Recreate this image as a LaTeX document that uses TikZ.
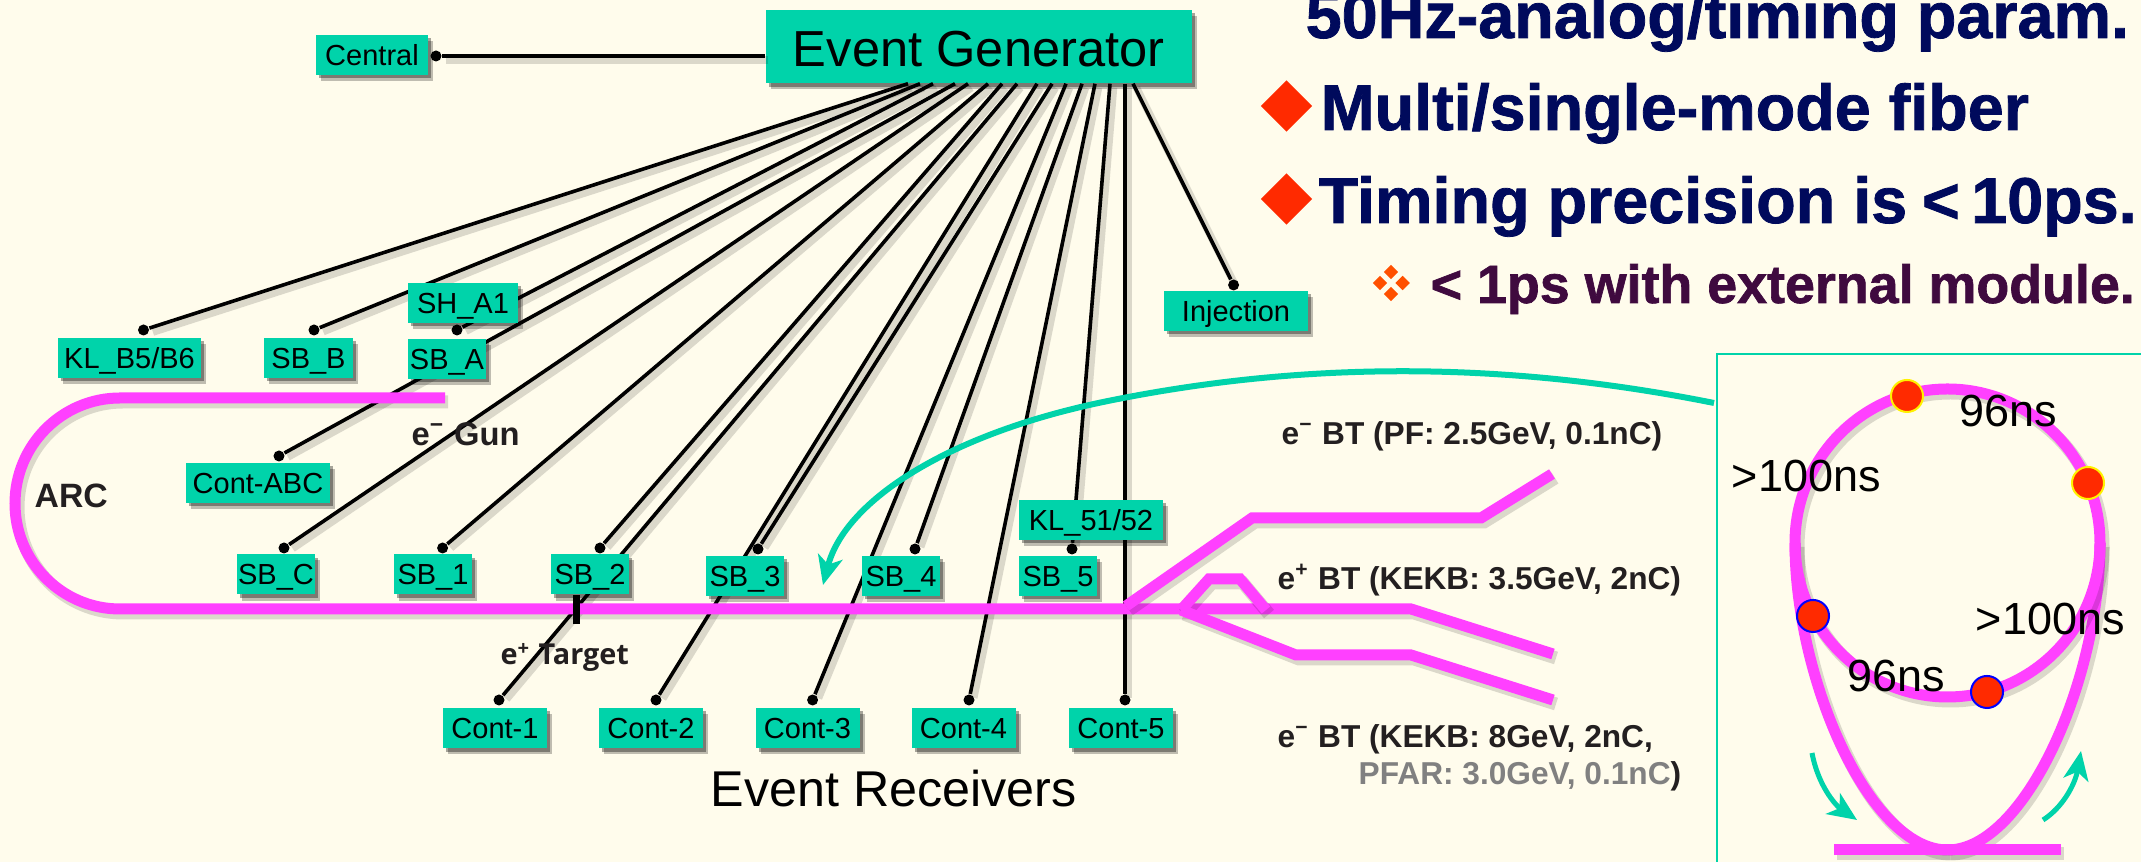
\documentclass[tikz,border=0pt]{standalone}
\usepackage{fontspec}
\setmainfont{Liberation Sans}
\newfontfamily\targetfont{Open Sans}
\newfontfamily\slidefont{Liberation Sans Bold}[FakeBold=1.2]
\usetikzlibrary{arrows.meta,shadows,shapes.geometric}
\definecolor{paper}{HTML}{FFFCEC}
\definecolor{evteal}{HTML}{00D3AA}
\definecolor{beampink}{HTML}{FF40FF}
\definecolor{navyink}{HTML}{000A5C}
\definecolor{plumink}{HTML}{3F0A3F}
\definecolor{redmark}{HTML}{FF2A00}
\definecolor{orangemark}{HTML}{FF5000}
\definecolor{labelink}{HTML}{231F20}

\begin{document}
\begin{tikzpicture}[x=0.01cm,y=-0.01cm,
    evbox/.style={fill=evteal,text=black,inner sep=0,minimum width=#1*0.01cm,minimum height=0.4cm,
      text height=0.21cm,text depth=0cm,font=\fontsize{8.25}{10}\selectfont,
      drop shadow={shadow xshift=0.05cm,shadow yshift=-0.06cm,fill=black,opacity=0.25},
      drop shadow={shadow xshift=0.03cm,shadow yshift=-0.035cm,fill=black,opacity=0.35}},
    wire/.style={draw=black,line width=0.036cm,
      preaction={draw=black,opacity=0.14,line width=0.075cm,transform canvas={shift={(0.035cm,-0.04cm)}}}},
    wiredot/.style={circle,fill=black,inner sep=0,minimum size=0.11cm},
    beam/.style={draw=beampink,line width=0.11cm,
      preaction={draw=black,opacity=0.14,line width=0.13cm,transform canvas={shift={(0.03cm,-0.04cm)}}}},
    teal arrow/.style={draw=evteal,line width=#1,-{Stealth[length=0.29cm,width=0.25cm,inset=0.08cm]}},
    label/.style={anchor=base west,inner sep=0,text=labelink,font=\fontsize{9}{11}\selectfont\bfseries},
    bigline/.style={anchor=base west,inner sep=0,text=navyink,font=\fontsize{18.4}{22}\selectfont\slidefont},
    bunch/.style={anchor=base west,inner sep=0,text=black,font=\fontsize{12.8}{15}\selectfont},
    bullet/.style={diamond,aspect=1,fill=redmark,inner sep=0,minimum size=0.52cm},
    smallbullet/.style={diamond,aspect=1,fill=orangemark,inner sep=0,minimum size=0.15cm},
    bunchdot/.style={circle,fill=redmark,draw=#1,line width=0.02cm,inner sep=0,minimum size=0.32cm}]

    \fill[paper] (0,0) rectangle (2141,862);
    \useasboundingbox (0,0) rectangle (2141,862);

    \node[evbox=426.5,minimum height=0.73cm,text height=0.41cm,font=\fontsize{14.4}{17}\selectfont]
      (gen) at (978.75,46.5) {Event Generator};

    % fibers, behind everything else
    \node[wiredot] (d-central) at (436,56) {};
    \draw[wire] (gen.west |- d-central) -- (d-central);
    \foreach \dname/\sx/\dx/\dy in {klb/908/143.5/330, sbb/920/314/330, sha/933/457/330, cabc/955/279/456,
      sbc/968/284/548, sb1/988/442.6/548, sb2/1002/600/548, c1/1017/499/700, c2/1037/656/700,
      sb3/1052/758/549, c3/1066/812.6/700, sb4/1082/915/549, c4/1095/969/700, sb5/1110/1072/549,
      c5/1125/1125/700, inj/1133/1233.6/285} {
      \node[wiredot] (d-\dname) at (\dx,\dy) {};
      \draw[wire] (\sx,0 |- gen.south) -- (d-\dname);
    }

    % linac and beam transports
    \draw[beam] (445,398) -- (120,398) arc[start angle=-90,end angle=-270,x radius=105,y radius=105.5]
      -- (1411,609) -- (1553,654);
    \draw[beam] (1126,606) -- (1252,518) -- (1481,518) -- (1552,474);
    \draw[beam] (1181,610) -- (1209,579) -- (1240,579) -- (1266,610);
    \draw[beam] (1181,610) -- (1296,655) -- (1411,655) -- (1553,700);
    \draw[black,line width=0.07cm] (576.5,595) -- (576.5,624);

    \draw[teal arrow=0.06cm] (1714,403) .. controls (1500,360) and (1300,362) .. (1108,401)
      .. controls (950,433) and (845,500) .. (823,585);

    \node[evbox=112] (central) at (372,55) {Central};
    \node[evbox=143] (klb) at (129.5,358) {KL\_B5/B6};
    \node[evbox=89] (sbb) at (308.5,358) {SB\_B};
    \node[evbox=110] (sha) at (463,303) {SH\_A1};
    \node[evbox=78] (sba) at (447,359) {SB\_A};
    \node[evbox=144] (cabc) at (258,483) {Cont-ABC};
    \node[evbox=78] (sbc) at (276,574.5) {SB\_C};
    \node[evbox=78] (sb1) at (433,574.5) {SB\_1};
    \node[evbox=78] (sb2) at (590,574.5) {SB\_2};
    \node[evbox=78] (sb3) at (745,576) {SB\_3};
    \node[evbox=78] (sb4) at (901,576) {SB\_4};
    \node[evbox=78] (sb5) at (1058,576) {SB\_5};
    \node[evbox=144] (kl5) at (1091,520) {KL\_51/52};
    \node[evbox=144] (inj) at (1236,311) {Injection};
    \foreach \num/\cx in {1/495,2/651,3/807.5,4/963.5,5/1121} {
      \node[evbox=104] (c\num) at (\cx,728) {Cont-\num};
    }

    \node[anchor=base west,inner sep=0,font=\fontsize{14.3}{17}\selectfont] (receivers) at (710,807) {Event Receivers};
    \node[label,font=\fontsize{9.6}{11}\selectfont\bfseries] (arc) at (34,508) {ARC};
    \node[label,font=\fontsize{9.3}{11}\selectfont\bfseries] (gun) at (411,446) {e\textsuperscript{−} Gun};
    \node[label,font=\fontsize{8.2}{10}\selectfont\bfseries\targetfont] (target) at (500,665) {e\textsuperscript{+} Target};
    \node[label] (pf) at (1281,445) {e\textsuperscript{−} BT (PF: 2.5GeV, 0.1nC)};
    \node[label] (kekbp) at (1277,590) {e\textsuperscript{+} BT (KEKB: 3.5GeV, 2nC)};
    \node[label] (kekbe) at (1277,748) {e\textsuperscript{−} BT (KEKB: 8GeV, 2nC,};
    \node[label,text=gray] (pfar) at (1358,785) {PFAR: 3.0GeV, 0.1nC\textcolor{labelink}{)}};

    % the slide's bullets
    \node[bigline] (line1) at (1305,38) {50Hz-analog/timing param.};
    \node[bullet] (b2) at (1286.5,106) {};
    \node[bigline] (line2) at (1320,130) {Multi/single-mode fiber};
    \node[bullet] (b3) at (1286.5,199) {};
    \node[bigline] (line3) at (1318,223) {Timing precision is\hspace{-0.05em} <\hspace{-0.1em} 10ps.};
    \foreach \mx/\my in {1391/272,1380/283,1402.6/283,1391/294} {
      \node[smallbullet] at (\mx,\my) {};
    }
    \node[bigline,text=plumink,font=\fontsize{15.3}{18}\selectfont\slidefont] (line4) at (1430,303) {< 1ps with external module.};

    % bunch spacing inset
    \draw[evteal,line width=0.02cm] (2141,354) -- (1717,354) -- (1717,862);
    \draw[beam] (1947.5,850) .. controls (1870,850) and (1795,680) .. (1795,543);
    \draw[beam] (1947.5,850) .. controls (2025,850) and (2100,680) .. (2100,543);
    \draw[beam] (1947.5,543) circle[x radius=152.5,y radius=154];
    \draw[beam] (1834,850) -- (2061,850);
    \node[bunchdot=yellow] (p1) at (1907,396) {};
    \node[bunchdot=yellow] (p2) at (2088,483) {};
    \node[bunchdot=blue] (p3) at (1813,616) {};
    \node[bunchdot=blue] (p4) at (1987,692) {};
    \draw[teal arrow=0.05cm] (1812,753) .. controls (1818,785) and (1835,805) .. (1857,820);
    \draw[teal arrow=0.05cm] (2043,820) .. controls (2062,808) and (2075,785) .. (2081,751);
    \node[bunch] (t1) at (1959,427) {96ns};
    \node[bunch] (t2) at (1731,492) {>100ns};
    \node[bunch] (t3) at (1975,635) {>100ns};
    \node[bunch] (t4) at (1847,692) {96ns};
\end{tikzpicture}
\end{document}
